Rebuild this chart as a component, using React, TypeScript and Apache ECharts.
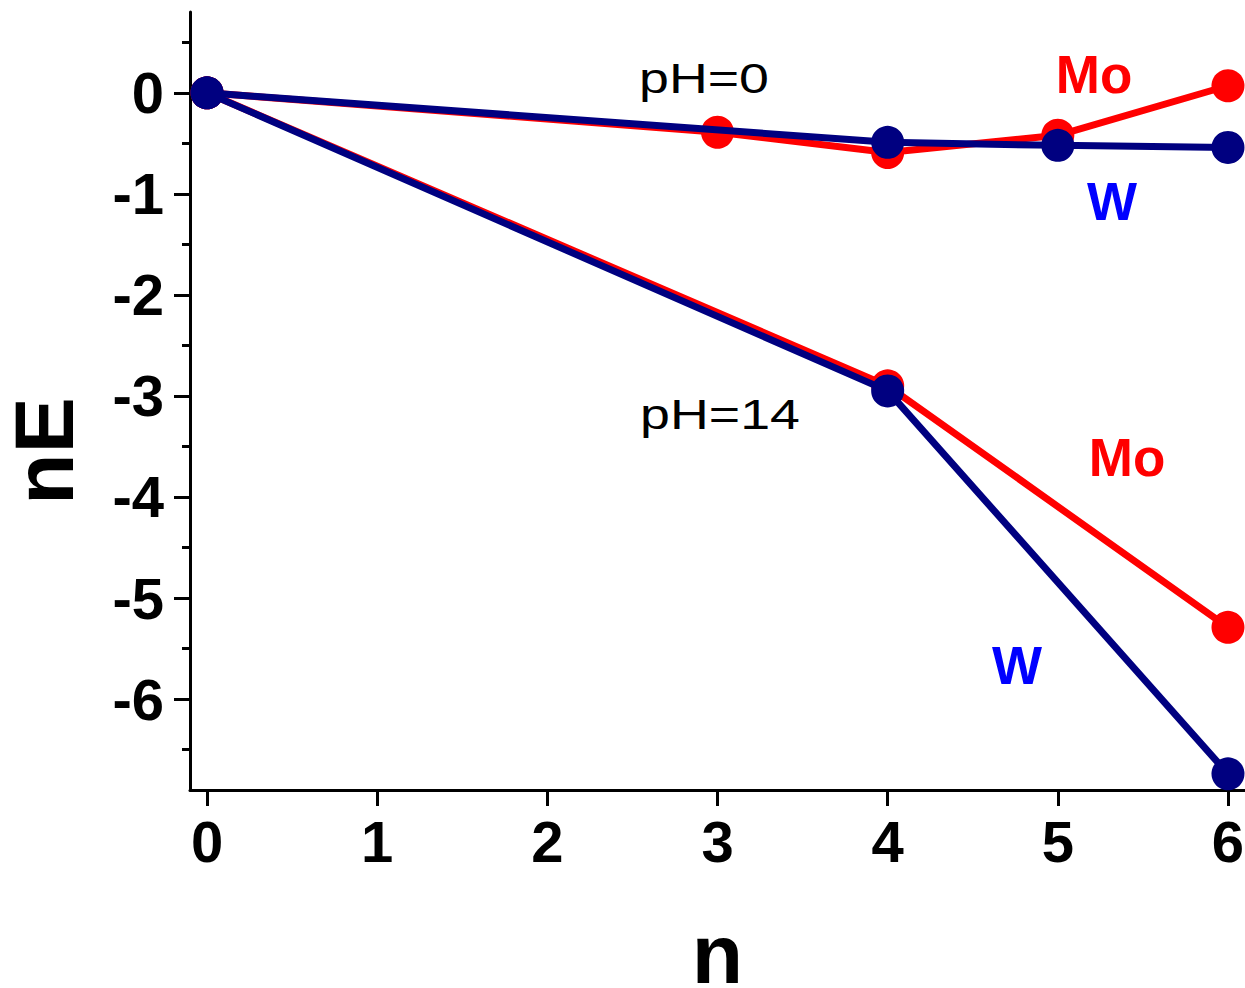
import React, { useEffect, useRef } from "react";
import * as echarts from "echarts";

// ---- data ----
const xTickValues = [0, 1, 2, 3, 4, 5, 6];
const yTickValues = [-6, -5, -4, -3, -2, -1, 0];
const yMinorTickValues = [-6.5, -5.5, -4.5, -3.5, -2.5, -1.5, -0.5, 0.5];

const moPH0: [number, number][] = [[0, 0], [3, -0.39], [4, -0.59], [5, -0.42], [6, 0.07]];
const moPH14: [number, number][] = [[0, 0], [4, -2.9], [6, -5.29]];
const wPH0: [number, number][] = [[0, 0], [4, -0.49], [5, -0.52], [6, -0.54]];
const wPH14: [number, number][] = [[0, 0], [4, -2.95], [6, -6.74]];

const RED = "#ff0000";
const NAVY = "#000080";
const BLUE = "#0000ff";
const FONT = '"Liberation Sans", Arial, sans-serif';

export default function App() {
  const ref = useRef<HTMLDivElement>(null);
  useEffect(() => {
    if (!ref.current) return;
    const chart = echarts.init(ref.current, undefined, { renderer: "svg" });
    const lineSeries = (name: string, data: [number, number][], color: string) => ({
      type: "line",
      name,
      data,
      symbol: "circle",
      symbolSize: 33,
      lineStyle: { color, width: 7 },
      itemStyle: { color },
      xAxisIndex: 0,
      yAxisIndex: 0,
      z: color === NAVY ? 3 : 2,
    });
    const annot = (text: string, x: number, y: number, color: string, size: number, weight: string, sx: number) => ({
      type: "text",
      x,
      y,
      scaleX: sx,
      z: 10,
      style: {
        text,
        fill: color,
        fontSize: size,
        fontWeight: weight,
        fontFamily: FONT,
        align: "center",
        verticalAlign: "middle",
      },
    });
    chart.setOption({
      animation: false,
      backgroundColor: "#ffffff",
      grid: { left: 190, right: 0, top: 12, bottom: 198, containLabel: false, outerBoundsMode: "none" },
      xAxis: {
        type: "value",
        min: -0.1,
        max: 6.1,
        name: "n",
        nameLocation: "middle",
        nameGap: 134,
        nameTextStyle: { fontSize: 84, lineHeight: 60, fontWeight: "bold", fontFamily: FONT, color: "#000" },
        axisLine: { show: true, onZero: false, lineStyle: { color: "#000", width: 3 } },
        axisTick: { show: true, inside: false, length: 16, lineStyle: { color: "#000", width: 3 }, customValues: xTickValues },
        axisLabel: { show: true, margin: 22, fontSize: 58, fontWeight: "bold", fontFamily: FONT, color: "#000", customValues: xTickValues },
        splitLine: { show: false },
      },
      yAxis: [
        {
          type: "value",
          min: -6.9,
          max: 0.8,
          name: "nE",
          nameLocation: "middle",
          nameGap: 116,
          nameTextStyle: { fontSize: 84, lineHeight: 60, fontWeight: "bold", fontFamily: FONT, color: "#000", padding: [0, 100, 0, 0] },
          axisLine: { show: true, onZero: false, lineStyle: { color: "#000", width: 3 } },
          axisTick: { show: true, inside: false, length: 16, lineStyle: { color: "#000", width: 3 }, customValues: yTickValues },
          axisLabel: { show: true, margin: 26, fontSize: 58, fontWeight: "bold", fontFamily: FONT, color: "#000", customValues: yTickValues, padding: [0, 0, 7, 0] },
          splitLine: { show: false },
        },
        {
          type: "value",
          min: -6.9,
          max: 0.8,
          position: "left",
          offset: 0,
          axisLine: { show: false, onZero: false },
          axisTick: { show: true, inside: false, length: 8, lineStyle: { color: "#000", width: 3 }, customValues: yMinorTickValues },
          axisLabel: { show: false },
          splitLine: { show: false },
        },
      ],
      series: [
        lineSeries("Mo pH=0", moPH0, RED),
        lineSeries("Mo pH=14", moPH14, RED),
        lineSeries("W pH=0", wPH0, NAVY),
        lineSeries("W pH=14", wPH14, NAVY),
      ],
      graphic: [
        annot("pH=0", 704, 78, "#000", 42, "normal", 1.28),
        annot("pH=14", 720, 414, "#000", 42, "normal", 1.28),
        annot("Mo", 1094, 74, RED, 53, "bold", 1),
        annot("W", 1112, 201, BLUE, 53, "bold", 1),
        annot("Mo", 1127, 457, RED, 53, "bold", 1),
        annot("W", 1017, 665, BLUE, 53, "bold", 1),
      ],
    });
    return () => chart.dispose();
  }, []);
  return (
    <div
      ref={ref}
      style={{ position: "fixed", left: 0, top: 0, width: 1245, height: 988, background: "#fff" }}
    />
  );
}
